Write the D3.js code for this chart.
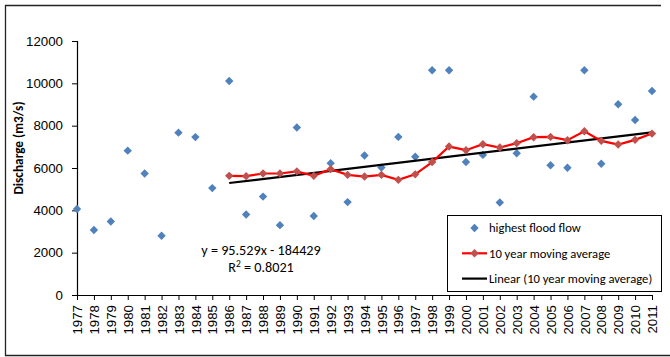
<!DOCTYPE html>
<html>
<head>
<meta charset="utf-8">
<script src="https://cdn.jsdelivr.net/npm/d3@7"></script>
<style>
  html, body { margin: 0; padding: 0; background: #fff; }
  svg { display: block; font-family: Carlito, Lato, "Open Sans", sans-serif; }
</style>
</head>
<body>
<svg id="chart" width="670" height="357"></svg>
<script>
// Annual highest flood flow, 1977–2011 (m3/s)
const years = d3.range(1977, 2012).map(String);
const floodFlow = [
  4060, 3070, 3470, 6820, 5740, 2800, 7670, 7460, 5050, 10110,
  3800, 4650, 3300, 7910, 3730, 6230, 4390, 6590, 6020, 7470,
  6530, 10620, 10620, 6280, 6620, 4370, 6700, 9370, 6130, 6010,
  10620, 6200, 9010, 8270, 9640
];
// 10 year moving average, starting 1986
const maYears = d3.range(1986, 2012).map(String);
const movingAvg = [
  5630, 5615, 5740, 5740, 5840, 5630, 5945, 5677, 5597, 5677,
  5440, 5700, 6280, 7013, 6842, 7125, 6966, 7173, 7456, 7470,
  7314, 7739, 7282, 7107, 7329, 7626
];
// Linear trend of the moving average: y = slope * year + intercept
const trendSlope = 95.529;
const trendIntercept = -184429;
const trendYears = ["1986", "2011"];
const yTicks = [0, 2000, 4000, 6000, 8000, 10000, 12000];

const svg = d3.select("#chart");
const plot = { left: 77, right: 652, top: 41, bottom: 295 };

// outer frame
svg.append("path")
  .attr("d", "M661,5.5 H5.5 V355.5 H670")
  .attr("fill", "none").attr("stroke", "#222").attr("stroke-width", 1.3);

const x = d3.scalePoint().domain(years).range([plot.left, plot.right]);
const y = d3.scaleLinear().domain([0, 12000]).range([plot.bottom, plot.top]);

// y axis
const yAxis = svg.append("g")
  .attr("transform", `translate(${plot.left},0)`)
  .call(d3.axisLeft(y).tickValues(yTicks).tickSize(5).tickPadding(9).tickFormat(d3.format("d")));
yAxis.selectAll("text").attr("font-size", 13.3).attr("fill", "#000").attr("font-family", null);
yAxis.select(".domain").attr("stroke", "#000").attr("stroke-width", 1.2);
yAxis.selectAll(".tick line").attr("stroke", "#000");

// x axis
const xAxis = svg.append("g")
  .attr("transform", `translate(0,${plot.bottom})`)
  .call(d3.axisBottom(x).tickSize(5).tickSizeOuter(0));
xAxis.select(".domain").attr("stroke", "#000").attr("stroke-width", 1.2);
xAxis.selectAll(".tick line").attr("stroke", "#000");
xAxis.selectAll("text")
  .attr("font-size", 13.3).attr("fill", "#000").attr("font-family", null)
  .attr("transform", "rotate(-90)")
  .attr("text-anchor", "end")
  .attr("x", -10).attr("y", 0).attr("dy", "0.35em");

// y axis title
svg.append("text")
  .attr("transform", "translate(18,148) rotate(-90)")
  .attr("text-anchor", "middle").attr("dy", "0.35em")
  .attr("font-size", 13.3).attr("font-weight", "bold")
  .text("Discharge (m3/s)");

const diamondPath = "M0,-4.2L4.2,0L0,4.2L-4.2,0Z";

// highest flood flow points
svg.append("g").selectAll("path")
  .data(years.map((yr, i) => [yr, floodFlow[i]]))
  .join("path")
  .attr("d", diamondPath)
  .attr("transform", d => `translate(${x(d[0])},${y(d[1])})`)
  .attr("fill", "#4F81BD");

// trend line
const trendLine = d3.line().x(d => x(d)).y(d => y(trendSlope * +d + trendIntercept));
svg.append("path")
  .datum(trendYears)
  .attr("d", trendLine)
  .attr("fill", "none").attr("stroke", "#000").attr("stroke-width", 2.2);

// moving average line and markers
const maData = maYears.map((yr, i) => [yr, movingAvg[i]]);
svg.append("path")
  .datum(maData)
  .attr("d", d3.line().x(d => x(d[0])).y(d => y(d[1])))
  .attr("fill", "none").attr("stroke", "#FF0000").attr("stroke-width", 2.2);
svg.append("g").selectAll("path")
  .data(maData)
  .join("path")
  .attr("d", diamondPath)
  .attr("transform", d => `translate(${x(d[0])},${y(d[1])})`)
  .attr("fill", "#C0504D");

// equation label
svg.append("text").attr("font-size", 14.2).attr("text-anchor", "middle").attr("fill", "#000")
  .attr("x", 261).attr("y", 255).text("y = 95.529x - 184429");
const r2 = svg.append("text").attr("font-size", 14.2).attr("text-anchor", "middle").attr("x", 261).attr("y", 272);
r2.append("tspan").text("R");
r2.append("tspan").attr("font-size", 9.5).attr("dy", -5).text("2");
r2.append("tspan").attr("dy", 5).text(" = 0.8021");

// legend
const lg = svg.append("g");
lg.append("rect")
  .attr("x", 447.5).attr("y", 215.5).attr("width", 214).attr("height", 76)
  .attr("fill", "#fff").attr("stroke", "#000").attr("stroke-width", 1);
const items = [
  { label: "highest flood flow", type: "point" },
  { label: "10 year moving average", type: "ma" },
  { label: "Linear (10 year moving average)", type: "trend" }
];
items.forEach((it, i) => {
  const cy = 228 + i * 25.3;
  if (it.type === "ma" || it.type === "trend") {
    lg.append("line").attr("x1", 462).attr("x2", 487).attr("y1", cy).attr("y2", cy)
      .attr("stroke", it.type === "ma" ? "#FF0000" : "#000").attr("stroke-width", 2.2);
  }
  if (it.type !== "trend") {
    lg.append("path").attr("d", diamondPath)
      .attr("transform", `translate(474.5,${cy})`)
      .attr("fill", it.type === "ma" ? "#C0504D" : "#4F81BD");
  }
  lg.append("text").attr("x", 489).attr("y", cy).attr("dy", "0.35em")
    .attr("font-size", 12.6).text(it.label);
});
</script>
</body>
</html>
